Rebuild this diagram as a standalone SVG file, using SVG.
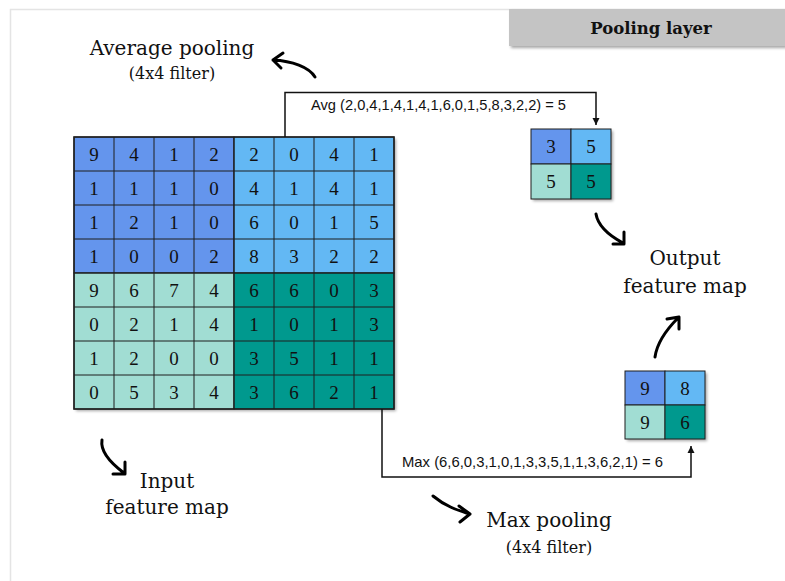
<svg xmlns="http://www.w3.org/2000/svg" width="785" height="581" viewBox="0 0 785 581">
  <style>
    .cell { stroke: #1e1e1e; stroke-width: 1; }
    .q1 { fill: #6495ed; }
    .q2 { fill: #63b8f4; }
    .q3 { fill: #a1ddd3; }
    .q4 { fill: #00998e; }
    .num { font-family: "Liberation Serif", "Times New Roman", serif; font-size: 19px; fill: #111; text-anchor: middle; }
    .label { font-family: "DejaVu Serif", Georgia, serif; font-size: 20px; fill: #111; text-anchor: middle; }
    .sub { font-family: "DejaVu Serif", Georgia, serif; font-size: 16px; fill: #111; text-anchor: middle; }
    .formula { font-family: "Liberation Sans", Arial, sans-serif; font-size: 14.5px; fill: #111; }
    .conn { fill: none; stroke: #111; stroke-width: 1.5; }
    .hand { fill: none; stroke: #000; stroke-width: 3; stroke-linecap: round; stroke-linejoin: round; }
  </style>
  <defs>
    <filter id="shadow" x="-10%" y="-10%" width="130%" height="130%">
      <feDropShadow dx="2" dy="2" stdDeviation="1.5" flood-color="#000" flood-opacity="0.35"/>
    </filter>
    <marker id="tip" viewBox="0 0 8 8" refX="8" refY="4" markerWidth="7" markerHeight="8" markerUnits="userSpaceOnUse" orient="auto">
      <path d="M0,0 L8,4 L0,8 z" fill="#111"/>
    </marker>
  </defs>

  <rect width="785" height="581" fill="#fff"/>
  <!-- page frame -->
  <path d="M10.5,581 L10.5,9.5 L785,9.5" fill="none" stroke="#e4e4e4" stroke-width="1.5"/>

  <!-- title banner -->
  <g id="banner">
    <rect x="509" y="9" width="276" height="37" fill="#c4c4c4" filter="url(#shadow)"/>
    <text x="651" y="34" font-family="'DejaVu Serif', Georgia, serif" font-size="16.5" font-weight="bold" text-anchor="middle" fill="#111">Pooling layer</text>
  </g>

  <!-- 8x8 input grid -->
  <g id="input-map">
    <g filter="url(#shadow)">
      <rect x="74" y="137" width="320" height="272" fill="#fff"/>
    </g>
    <g class="cell">
      <rect class="q1" x="74" y="137" width="160" height="136"/>
      <rect class="q2" x="234" y="137" width="160" height="136"/>
      <rect class="q3" x="74" y="273" width="160" height="136"/>
      <rect class="q4" x="234" y="273" width="160" height="136"/>
    </g>
    <path d="M114,137V409 M154,137V409 M194,137V409 M234,137V409 M274,137V409 M314,137V409 M354,137V409
             M74,171H394 M74,205H394 M74,239H394 M74,273H394 M74,307H394 M74,341H394 M74,375H394"
          stroke="#1e1e1e" stroke-width="1" fill="none"/>
    <rect x="74" y="137" width="320" height="272" fill="none" stroke="#1e1e1e" stroke-width="1.5"/>
    <g class="num">
      <text x="94" y="161">9</text><text x="134" y="161">4</text><text x="174" y="161">1</text><text x="214" y="161">2</text>
      <text x="254" y="161">2</text><text x="294" y="161">0</text><text x="334" y="161">4</text><text x="374" y="161">1</text>

      <text x="94" y="195">1</text><text x="134" y="195">1</text><text x="174" y="195">1</text><text x="214" y="195">0</text>
      <text x="254" y="195">4</text><text x="294" y="195">1</text><text x="334" y="195">4</text><text x="374" y="195">1</text>

      <text x="94" y="229">1</text><text x="134" y="229">2</text><text x="174" y="229">1</text><text x="214" y="229">0</text>
      <text x="254" y="229">6</text><text x="294" y="229">0</text><text x="334" y="229">1</text><text x="374" y="229">5</text>

      <text x="94" y="263">1</text><text x="134" y="263">0</text><text x="174" y="263">0</text><text x="214" y="263">2</text>
      <text x="254" y="263">8</text><text x="294" y="263">3</text><text x="334" y="263">2</text><text x="374" y="263">2</text>

      <text x="94" y="297">9</text><text x="134" y="297">6</text><text x="174" y="297">7</text><text x="214" y="297">4</text>
      <text x="254" y="297">6</text><text x="294" y="297">6</text><text x="334" y="297">0</text><text x="374" y="297">3</text>

      <text x="94" y="331">0</text><text x="134" y="331">2</text><text x="174" y="331">1</text><text x="214" y="331">4</text>
      <text x="254" y="331">1</text><text x="294" y="331">0</text><text x="334" y="331">1</text><text x="374" y="331">3</text>

      <text x="94" y="365">1</text><text x="134" y="365">2</text><text x="174" y="365">0</text><text x="214" y="365">0</text>
      <text x="254" y="365">3</text><text x="294" y="365">5</text><text x="334" y="365">1</text><text x="374" y="365">1</text>

      <text x="94" y="399">0</text><text x="134" y="399">5</text><text x="174" y="399">3</text><text x="214" y="399">4</text>
      <text x="254" y="399">3</text><text x="294" y="399">6</text><text x="334" y="399">2</text><text x="374" y="399">1</text>
    </g>
  </g>

  <!-- 2x2 result of average pooling -->
  <g id="avg-output">
    <g filter="url(#shadow)">
      <rect x="531" y="129" width="80" height="70" fill="#fff"/>
    </g>
    <g class="cell">
      <rect class="q1" x="531" y="129" width="40" height="35"/>
      <rect class="q2" x="571" y="129" width="40" height="35"/>
      <rect class="q3" x="531" y="164" width="40" height="35"/>
      <rect class="q4" x="571" y="164" width="40" height="35"/>
    </g>
    <g class="num">
      <text x="551" y="153">3</text><text x="591" y="153">5</text>
      <text x="551" y="188">5</text><text x="591" y="188">5</text>
    </g>
  </g>

  <!-- 2x2 result of max pooling -->
  <g id="max-output">
    <g filter="url(#shadow)">
      <rect x="625" y="371" width="80" height="68" fill="#fff"/>
    </g>
    <g class="cell">
      <rect class="q1" x="625" y="371" width="40" height="34"/>
      <rect class="q2" x="665" y="371" width="40" height="34"/>
      <rect class="q3" x="625" y="405" width="40" height="34"/>
      <rect class="q4" x="665" y="405" width="40" height="34"/>
    </g>
    <g class="num">
      <text x="645" y="395">9</text><text x="685" y="395">8</text>
      <text x="645" y="429">9</text><text x="685" y="429">6</text>
    </g>
  </g>

  <!-- pooling connectors -->
  <g id="connectors">
    <polyline class="conn" points="285,137 285,92.5 596,92.5 596,125" marker-end="url(#tip)"/>
    <text class="formula" x="311" y="110" textLength="255" lengthAdjust="spacingAndGlyphs">Avg (2,0,4,1,4,1,4,1,6,0,1,5,8,3,2,2) = 5</text>
    <polyline class="conn" points="382,409 382,477 691,477 691,446" marker-end="url(#tip)"/>
    <text class="formula" x="402" y="467" textLength="261" lengthAdjust="spacingAndGlyphs">Max (6,6,0,3,1,0,1,3,3,5,1,1,3,6,2,1) = 6</text>
  </g>

  <!-- captions with hand-drawn pointers -->
  <g id="avg-label">
    <text class="label" x="172" y="55">Average pooling</text>
    <text class="sub" x="172" y="79">(4x4 filter)</text>
    <path class="hand" d="M315,77 C309,67 292,61 273,60 M283,53 L273,60 L281,68"/>
  </g>

  <g id="output-label">
    <text class="label" x="685" y="265">Output</text>
    <text class="label" x="685" y="293">feature map</text>
    <path class="hand" d="M596,214 C598,226 610,236 623,243 M624,232 L624,244 L613,244"/>
    <path class="hand" d="M655,357 C657,343 666,330 678,318 M667,319 L679,317 L679,329"/>
  </g>

  <g id="input-label">
    <text class="label" x="167" y="488">Input</text>
    <text class="label" x="167" y="514">feature map</text>
    <path class="hand" d="M102,440 C100,452 112,464 124,473 M125,462 L125,474 L113,474"/>
  </g>

  <g id="max-label">
    <text class="label" x="549" y="527">Max pooling</text>
    <text class="sub" x="549" y="553">(4x4 filter)</text>
    <path class="hand" d="M433,496 C445,506 457,510 469,514 M459,506 L470,514 L460,522"/>
  </g>
</svg>
